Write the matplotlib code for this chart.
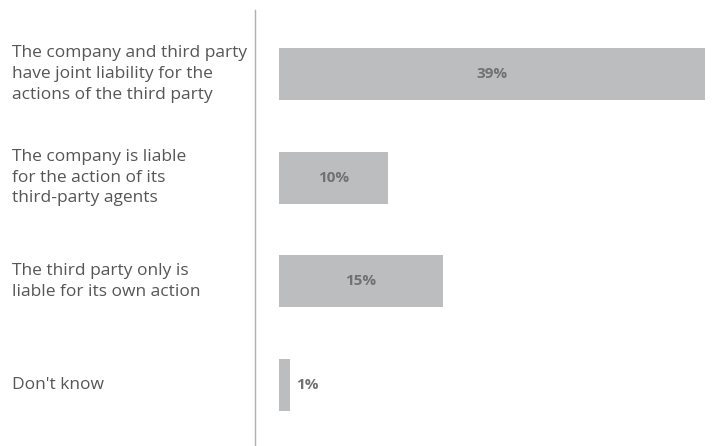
import matplotlib.pyplot as plt

categories = [
    "The company and third party\nhave joint liability for the\nactions of the third party",
    "The company is liable\nfor the action of its\nthird-party agents",
    "The third party only is\nliable for its own action",
    "Don't know",
]
values = [39, 10, 15, 1]
value_labels = ["39%", "10%", "15%", "1%"]

BAR_COLOR = "#bcbdbf"
TEXT_COLOR = "#555658"
PCT_COLOR = "#707173"

W, H = 713, 446
fig = plt.figure(figsize=(W / 100, H / 100), dpi=100)
ax = fig.add_axes([255 / W, 0, 1 - 255 / W, 1 - 10 / H])

ys = list(range(len(values)))
ax.barh(ys, values, height=0.5, color=BAR_COLOR, left=0)

for y, v, lab in zip(ys, values, value_labels):
    if v >= 5:
        ax.text(v / 2, y, lab, ha="center", va="center", color=PCT_COLOR,
                fontsize=11, fontweight="bold", family="Open Sans")
    else:
        ax.text(v + 0.6, y, lab, ha="left", va="center", color=PCT_COLOR,
                fontsize=11, fontweight="bold", family="Open Sans")

ax.set_xlim(-2.2, 39.74)
ax.set_ylim(3.588, -0.617)

for s in ["top", "right", "bottom"]:
    ax.spines[s].set_visible(False)
ax.spines["left"].set_color("#b0b0b0")
ax.spines["left"].set_linewidth(1)
ax.set_xticks([])
ax.set_yticks([])

# category labels on the left, in figure pixels
for y, cat in zip(ys, categories):
    yc = 74 + y * 103.67
    fig.text(12 / W, 1 - yc / H, cat, ha="left", va="center", color=TEXT_COLOR,
             fontsize=12.5, family="Open Sans", linespacing=1.38)

fig.savefig("out.png", dpi=100)
